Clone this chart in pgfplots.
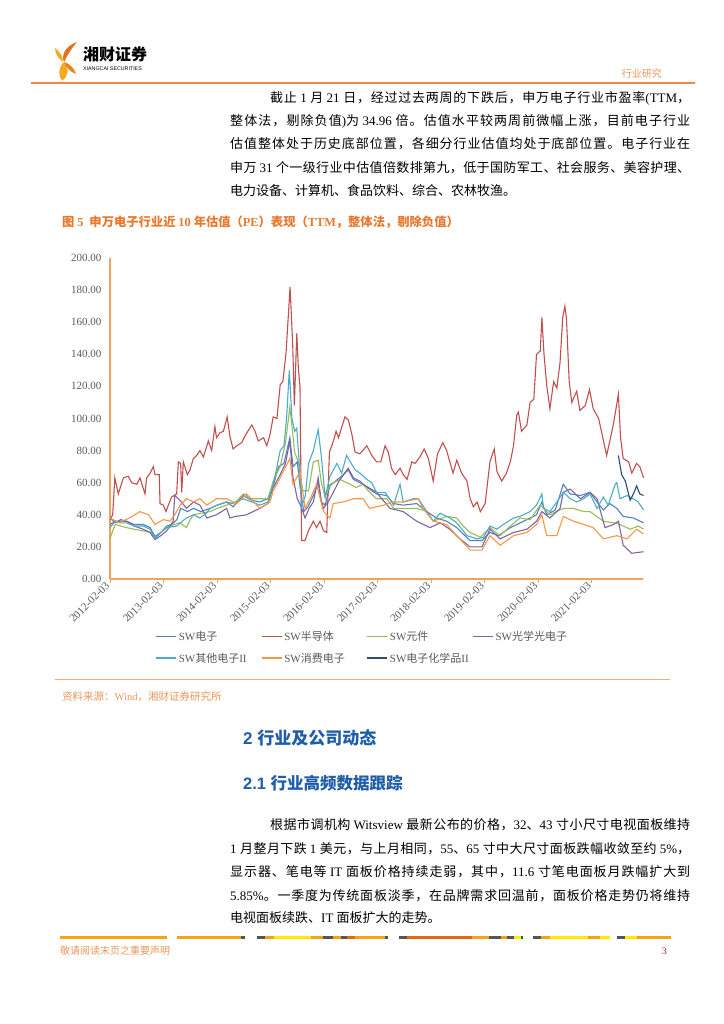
\documentclass[border=0pt]{standalone}
\usepackage{pgfplots}
\pgfplotsset{compat=1.18}
\usepackage{fontspec}
\setmainfont{Liberation Serif}
\newfontfamily\cjk{Noto Sans CJK SC}
\newfontfamily\hsans{Liberation Sans}
\XeTeXinterchartokenstate=1
\newXeTeXintercharclass\CJKcls
\newcount\cc
\cc="3000 \loop\ifnum\cc<"3040 \XeTeXcharclass\cc=\CJKcls \advance\cc by 1 \repeat
\cc="4E00 \loop\ifnum\cc<"A000 \XeTeXcharclass\cc=\CJKcls \advance\cc by 1 \repeat
\cc="FF00 \loop\ifnum\cc<"FFF0 \XeTeXcharclass\cc=\CJKcls \advance\cc by 1 \repeat
\def\latin{\rmfamily}
\XeTeXinterchartoks 0 \CJKcls = {\cjk}
\XeTeXinterchartoks 4095 \CJKcls = {\cjk}
\XeTeXinterchartoks \CJKcls 0 = {\latin}
\XeTeXinterchartoks 4095 0 = {\latin}
\XeTeXinterchartoks \CJKcls \CJKcls = {\hskip 0pt plus 3pt\relax}

\definecolor{cBlue}{HTML}{4F81BD}
\definecolor{cRed}{HTML}{C0504D}
\definecolor{cGreen}{HTML}{9BBB59}
\definecolor{cPurple}{HTML}{8064A2}
\definecolor{cCyan}{HTML}{4BACC6}
\definecolor{cOrange}{HTML}{F79646}
\definecolor{cNavy}{HTML}{2C4D75}
\definecolor{axor}{HTML}{F4A15D}
\definecolor{tickgray}{HTML}{595959}
\definecolor{capor}{HTML}{E8782E}
\definecolor{srcor}{HTML}{E9955A}
\definecolor{hline}{HTML}{EE8A45}
\definecolor{headblue}{HTML}{1F5DA8}
\definecolor{logoA}{HTML}{E2701C}
\definecolor{logoB}{HTML}{F7A823}
\definecolor{barOr}{HTML}{F5A214}
\definecolor{barGy}{HTML}{555555}
\definecolor{barYe}{HTML}{FFEB00}
\definecolor{barDk}{HTML}{E06B14}
\definecolor{pgred}{HTML}{C0143C}

\newcommand\bodyfont{\fontsize{13bp}{16bp}\selectfont}
\newcommand\jline[4]{\node[anchor=base west,inner sep=0pt,font=\bodyfont] at (#1,#2) {\hbox to #3bp{#4}};}

\begin{document}
\begin{tikzpicture}[x=1bp,y=1bp]
\path[use as bounding box] (0,0) rectangle (724,1024);

% ---------- header ----------
\fill[logoA] (77,982) .. controls (66,978) and (61,970) .. (64,962) .. controls (67,968) and (71,975) .. (77,982) -- cycle;
\fill[logoB] (55,976) .. controls (60,972) and (63,968) .. (63,962) .. controls (58,966) and (55,970) .. (55,976) -- cycle;
\fill[logoB] (64,962) .. controls (58,956) and (58,949) .. (62,943) .. controls (68,947) and (70,955) .. (64,962) -- cycle;
\fill[logoA!70!logoB] (64,962) .. controls (70,960) and (74,956) .. (76,950) .. controls (70,952) and (66,957) .. (64,962) -- cycle;
\node[anchor=base west,inner sep=0pt,font=\fontsize{16bp}{18bp}\selectfont\bfseries] at (83,963) {湘财证券};
\node[anchor=base west,inner sep=0pt,font=\hsans\fontsize{5.3bp}{6bp}\selectfont] at (83,953.5) {\def\latin{\hsans}XIANGCAI SECURITIES};
\node[anchor=base east,inner sep=0pt,font=\fontsize{10bp}{12bp}\selectfont,text=srcor] at (662,946) {行业研究};
\draw[hline,line width=1.2bp] (31,941) -- (695,941);

% ---------- paragraph 1 ----------
\jline{270}{921}{420}{截止 1 月 21 日，经过过去两周的下跌后，申万电子行业市盈率(TTM，}
\jline{230}{898}{460}{整体法，剔除负值)为 34.96 倍。估值水平较两周前微幅上涨，目前电子行业}
\jline{230}{875}{460}{估值整体处于历史底部位置，各细分行业估值均处于底部位置。电子行业在}
\jline{230}{851}{460}{申万 31 个一级行业中估值倍数排第九，低于国防军工、社会服务、美容护理、}
\node[anchor=base west,inner sep=0pt,font=\bodyfont] at (230,828) {电力设备、计算机、食品饮料、综合、农林牧渔。};

% ---------- caption ----------
\node[anchor=base west,inner sep=0pt,font=\fontsize{12.3bp}{14bp}\selectfont\bfseries,text=capor] at (62,797) {图 5\hspace{6bp}申万电子行业近 10 年估值（PE）表现（TTM，整体法，剔除负值）};

% ---------- chart ----------
\begin{axis}[
  at={(110bp,445bp)}, anchor=south west, scale only axis,
  width=533bp, height=321bp,
  xmin=0, xmax=9.96, ymin=0, ymax=200,
  axis lines=left,
  axis line style={-, draw=axor, line width=1.1bp},
  no markers,
  clip=false,
  ytick={0,20,...,200},
  ytick style={draw=none},
  yticklabel style={font=\fontsize{11bp}{12bp}\selectfont, text=tickgray, anchor=east, xshift=-1bp},
  yticklabel={\pgfmathprintnumber[fixed,fixed zerofill,precision=2,assume math mode=true]{\tick}},
  xtick={0,1,...,9},
  xticklabels={2012-02-03,2013-02-03,2014-02-03,2015-02-03,2016-02-03,2017-02-03,2018-02-03,2019-02-03,2020-02-03,2021-02-03},
  xtick style={draw=axor, line width=1bp},
  tick align=outside, major tick length=4bp,
  xticklabel style={font=\fontsize{11bp}{12bp}\selectfont, text=tickgray, rotate=45, anchor=east, xshift=1bp, yshift=1bp},
  legend columns=4,
  legend cell align=left,
  legend style={at={(0.0844,-0.155)}, anchor=north west, draw=none, fill=none, inner sep=0pt,
    font=\fontsize{11bp}{12bp}\selectfont, text=tickgray, row sep=7bp,
    /tikz/every even column/.append style={column sep=0bp}},
  legend image code/.code={\draw[#1, line width=1.6bp] (0bp,0bp) -- (20bp,0bp);},
  every axis plot/.append style={line width=1.1bp},
]
% SW电子
\addplot[cBlue] coordinates {(0,38) (0.1,35) (0.2,37) (0.31,36) (0.45,34) (0.62,34) (0.75,32) (0.84,26.5) (0.95,29) (1.06,33) (1.15,34) (1.25,37) (1.32,44) (1.45,42) (1.56,44) (1.7,42) (1.87,44) (2.0,46) (2.18,48) (2.3,45) (2.49,52) (2.65,49) (2.8,48) (2.95,50) (3.05,58) (3.15,70) (3.25,72) (3.36,88) (3.42,70) (3.5,73) (3.55,58) (3.62,42) (3.7,45) (3.8,52) (3.89,60) (3.95,48) (4.02,46) (4.11,58) (4.25,62) (4.36,65) (4.45,68) (4.55,62) (4.67,60) (4.73,59) (4.85,56) (4.98,53) (5.17,52) (5.3,47) (5.48,46) (5.73,47) (5.92,42) (6.1,38) (6.29,36) (6.48,32) (6.6,28) (6.73,24) (6.95,24) (7.1,29) (7.26,27) (7.48,32) (7.73,36) (7.97,40) (8.07,48) (8.16,40) (8.32,43) (8.47,59) (8.6,53) (8.79,52) (8.97,54) (9.1,48) (9.22,43) (9.34,47) (9.47,44) (9.59,39) (9.78,38) (9.97,35)};
\addlegendentry{\makebox[80bp][l]{SW电子}}
% SW半导体
\addplot[cRed] coordinates {(0,37) (0.05,40) (0.09,63) (0.155,53) (0.25,63) (0.34,64) (0.405,60) (0.5,59) (0.56,63) (0.654,53) (0.685,63) (0.75,66) (0.81,70) (0.84,65) (0.92,65) (0.935,47) (0.997,46) (1.046,42) (1.09,46) (1.15,51) (1.246,53) (1.277,73) (1.32,72) (1.34,54) (1.37,73) (1.445,65) (1.495,68) (1.557,75) (1.62,77) (1.68,80) (1.745,76) (1.838,86) (1.9,80) (1.96,95) (1.99,88) (2.05,91) (2.118,92) (2.19,101) (2.24,89) (2.3,81) (2.37,83) (2.46,85) (2.52,89) (2.65,96) (2.71,92) (2.77,86) (2.87,88) (2.93,83) (2.99,90) (3.05,101) (3.12,100) (3.18,121) (3.23,123) (3.29,141) (3.365,182) (3.415,145) (3.445,108) (3.49,153) (3.52,131) (3.55,120) (3.58,24) (3.645,24) (3.707,30) (3.8,36) (3.86,32) (3.925,36) (3.99,30) (4.05,29) (4.1,79) (4.175,86) (4.225,92) (4.27,88) (4.39,101) (4.455,99) (4.52,90) (4.58,79) (4.67,78) (4.8,83) (4.89,77) (4.98,73) (5.06,73) (5.14,83) (5.2,79) (5.26,69) (5.33,65) (5.42,69) (5.48,65) (5.55,62) (5.64,73) (5.7,72) (5.79,76) (5.87,81) (5.95,75) (6.04,61) (6.12,78) (6.22,85) (6.29,80) (6.35,73) (6.41,66) (6.48,74) (6.57,66) (6.67,61) (6.73,50) (6.79,45) (6.86,48) (6.92,42) (7.01,47) (7.1,73) (7.18,81) (7.23,67) (7.32,61) (7.41,66) (7.48,73) (7.54,83) (7.6,102) (7.63,104) (7.69,92) (7.79,96) (7.85,110) (7.92,112) (7.97,140) (8.04,142) (8.07,163) (8.11,140) (8.16,121) (8.22,106) (8.29,123) (8.35,119) (8.41,135) (8.46,163) (8.5,170) (8.53,162) (8.58,123) (8.63,110) (8.72,117) (8.78,105) (8.88,108) (8.96,118) (9.03,106) (9.13,100) (9.19,91) (9.28,77) (9.34,86) (9.41,97) (9.5,115) (9.54,88) (9.59,75) (9.69,73) (9.75,66) (9.84,72) (9.9,70) (9.97,63)};
\addlegendentry{\makebox[80bp][l]{SW半导体}}
% SW元件
\addplot[cGreen] coordinates {(0,25) (0.05,30) (0.1,34) (0.2,33) (0.31,32) (0.45,31) (0.62,30) (0.75,29) (0.84,25) (0.95,29) (1.06,32) (1.2,34) (1.3,35) (1.43,32) (1.5,37) (1.56,40) (1.7,41) (1.87,42) (2.0,44) (2.18,46) (2.35,48) (2.49,53) (2.65,50) (2.8,50) (2.95,50) (3.05,61) (3.18,70) (3.28,85) (3.36,107) (3.4,95) (3.45,79) (3.52,73) (3.6,55) (3.71,55) (3.8,73) (3.89,74) (3.95,60) (4.02,51) (4.11,59) (4.3,62) (4.42,60) (4.49,59) (4.6,57) (4.73,59) (4.85,54) (4.98,50) (5.17,50) (5.3,44) (5.48,44) (5.73,44) (5.92,42) (6.04,36) (6.29,39) (6.48,38) (6.6,33) (6.73,29) (6.92,26) (7.1,32) (7.29,27) (7.48,33) (7.66,38) (7.85,37) (8.04,46) (8.22,40) (8.47,44) (8.66,44) (8.85,42) (8.97,42) (9.22,36) (9.41,35) (9.53,34) (9.72,31) (9.87,33) (9.97,31)};
\addlegendentry{\makebox[80bp][l]{SW元件}}
% SW光学光电子
\addplot[cPurple] coordinates {(0,34) (0.1,36) (0.31,36) (0.45,33) (0.62,31) (0.75,29) (0.84,24.5) (0.95,27) (1.06,30) (1.18,36) (1.21,52) (1.31,49) (1.43,44) (1.56,48) (1.68,46) (1.81,38) (1.99,40) (2.18,44) (2.24,38) (2.35,39) (2.55,40) (2.8,44) (2.95,47) (3.05,57) (3.18,65) (3.28,72) (3.36,86) (3.42,63) (3.5,50) (3.56,46) (3.645,38) (3.72,44) (3.8,48) (3.89,63) (3.95,48) (3.99,44) (4.11,50) (4.28,61) (4.45,69) (4.55,63) (4.67,61) (4.73,59) (4.98,54) (5.23,44) (5.48,42) (5.73,36) (5.98,32) (6.17,35) (6.35,31) (6.54,25) (6.73,20) (6.95,20) (7.1,31) (7.29,25) (7.54,29) (7.79,31) (7.97,36) (8.07,42) (8.22,38) (8.41,44) (8.47,54) (8.6,56) (8.79,50) (8.97,54) (9.1,50) (9.25,32) (9.41,34) (9.5,36) (9.59,21) (9.75,16) (9.97,17)};
\addlegendentry{\makebox[80bp][l]{SW光学光电子}}
% SW其他电子II
\addplot[cCyan] coordinates {(0,32) (0.1,36) (0.2,35) (0.31,35) (0.45,33) (0.62,33) (0.75,31) (0.84,25) (0.95,29) (1.06,32) (1.25,33) (1.35,36) (1.43,38) (1.56,40) (1.68,38) (1.8,41) (1.87,44) (2.0,46) (2.18,48) (2.3,47) (2.49,50) (2.65,48) (2.8,46) (2.95,48) (3.05,59) (3.12,70) (3.18,80) (3.25,83) (3.3,100) (3.35,130) (3.4,100) (3.45,92) (3.49,94) (3.53,75) (3.58,45) (3.65,52) (3.71,72) (3.8,80) (3.89,93) (3.95,76) (4.02,51) (4.11,64) (4.24,72) (4.33,66) (4.42,77) (4.49,73) (4.58,68) (4.67,66) (4.8,62) (4.89,60) (4.98,54) (5.14,54) (5.3,46) (5.42,59) (5.48,48) (5.58,49) (5.67,50) (5.76,50) (5.92,42) (6.04,36) (6.17,41) (6.35,38) (6.48,35) (6.67,27) (6.86,25) (6.98,26) (7.1,33) (7.23,31) (7.35,34) (7.54,38) (7.66,39) (7.85,42) (7.97,46) (8.07,53) (8.1,44) (8.22,42) (8.35,48) (8.47,54) (8.6,50) (8.72,48) (8.85,50) (8.97,53) (9.1,44) (9.22,51) (9.31,46) (9.44,59) (9.47,60) (9.53,50) (9.66,52) (9.78,50) (9.87,48) (9.97,43)};
\addlegendentry{\makebox[80bp][l]{SW其他电子II}}
% SW消费电子
\addplot[cOrange] coordinates {(0,38) (0.17,35) (0.36,38) (0.56,42) (0.72,40) (0.84,34) (1.0,37) (1.12,36) (1.21,40) (1.31,46) (1.43,50) (1.56,48) (1.68,50) (1.81,46) (1.99,50) (2.18,50) (2.37,47) (2.55,53) (2.8,44) (2.99,48) (3.05,55) (3.18,63) (3.36,75) (3.42,59) (3.55,67) (3.645,44) (3.74,50) (3.86,59) (3.99,42) (4.11,38) (4.17,47) (4.36,48) (4.55,50) (4.67,50) (4.73,50) (4.85,44) (5.11,46) (5.3,48) (5.48,48) (5.76,50) (5.85,44) (6.04,36) (6.29,34) (6.48,27) (6.73,18) (6.95,18) (7.1,27) (7.29,21) (7.54,27) (7.79,29) (7.97,34) (8.07,40) (8.16,27) (8.35,27) (8.47,39) (8.66,36) (8.85,34) (9.03,32) (9.22,25) (9.47,27) (9.66,25) (9.84,31) (9.97,28)};
\addlegendentry{\makebox[80bp][l]{SW消费电子}}
% SW电子化学品II
\addplot[cNavy] coordinates {(9.5,77) (9.56,65) (9.63,61) (9.72,49) (9.78,53) (9.84,58) (9.9,53) (9.97,52)};
\addlegendentry{\makebox[80bp][l]{SW电子化学品II}}
\end{axis}

% ---------- source ----------
\draw[hline!70,line width=1bp] (55,344) -- (670,344);
\node[anchor=base west,inner sep=0pt,font=\fontsize{10.5bp}{12bp}\selectfont,text=srcor] at (62,323) {资料来源：Wind，湘财证券研究所};

% ---------- headings ----------
\node[anchor=base west,inner sep=0pt,font=\fontsize{17bp}{20bp}\selectfont\bfseries,text=headblue] at (243,279) {\def\latin{\hsans}2 行业及公司动态};
\node[anchor=base west,inner sep=0pt,font=\fontsize{16.5bp}{20bp}\selectfont\bfseries,text=headblue] at (243,234) {\def\latin{\hsans}2.1 行业高频数据跟踪};

% ---------- paragraph 2 ----------
\jline{270}{194}{420}{根据市调机构 Witsview 最新公布的价格，32、43 寸小尺寸电视面板维持}
\jline{230}{170}{460}{1 月整月下跌 1 美元，与上月相同，55、65 寸中大尺寸面板跌幅收敛至约 5\%，}
\jline{230}{147}{460}{显示器、笔电等 IT 面板价格持续走弱，其中，11.6 寸笔电面板月跌幅扩大到}
\jline{230}{123}{460}{5.85\%。一季度为传统面板淡季，在品牌需求回温前，面板价格走势仍将维持}
\node[anchor=base west,inner sep=0pt,font=\bodyfont] at (230,101) {电视面板续跌、IT 面板扩大的走势。};

% ---------- footer ----------
\fill[barOr] (60,85) rectangle (167,88);
\fill[barOr] (177,85) rectangle (241,88);
\fill[barGy] (241,85) rectangle (245,88);
\fill[barGy] (257,85) rectangle (265,88);
\fill[barOr] (265,85) rectangle (274,88);
\fill[barYe] (274,85) rectangle (311,88);
\fill[barOr] (311,85) rectangle (323,88);
\fill[barGy] (323,85) rectangle (333,88);
\fill[barOr] (333,85) rectangle (341,88);
\fill[barGy] (341,85) rectangle (347,88);
\fill[barDk] (347,85) rectangle (355,88);
\fill[barOr] (355,85) rectangle (385,88);
\fill[barGy] (385,85) rectangle (388,88);
\fill[barGy] (399,85) rectangle (407,88);
\fill[barDk] (407,85) rectangle (472,88);
\fill[barOr] (472,85) rectangle (489,88);
\fill[barGy] (489,85) rectangle (501,88);
\fill[barOr] (501,85) rectangle (507,88);
\fill[barGy] (507,85) rectangle (514,88);
\fill[barYe] (514,85) rectangle (521,88);
\fill[green!50!black] (521,85) rectangle (523,88);
\fill[barGy] (533,85) rectangle (541,88);
\fill[barOr] (541,85) rectangle (550,88);
\fill[barYe] (550,85) rectangle (588,88);
\fill[barOr] (588,85) rectangle (600,88);
\fill[barYe] (600,85) rectangle (610,88);
\fill[barGy] (617,85) rectangle (625,88);
\fill[barYe] (625,85) rectangle (637,88);
\fill[barOr] (637,85) rectangle (671,88);
\node[anchor=base west,inner sep=0pt,font=\fontsize{10bp}{12bp}\selectfont,text=srcor] at (60,69) {敬请阅读末页之重要声明};
\node[anchor=base east,inner sep=0pt,font=\fontsize{10bp}{12bp}\selectfont,text=pgred] at (667,69) {3};
\end{tikzpicture}
\end{document}
